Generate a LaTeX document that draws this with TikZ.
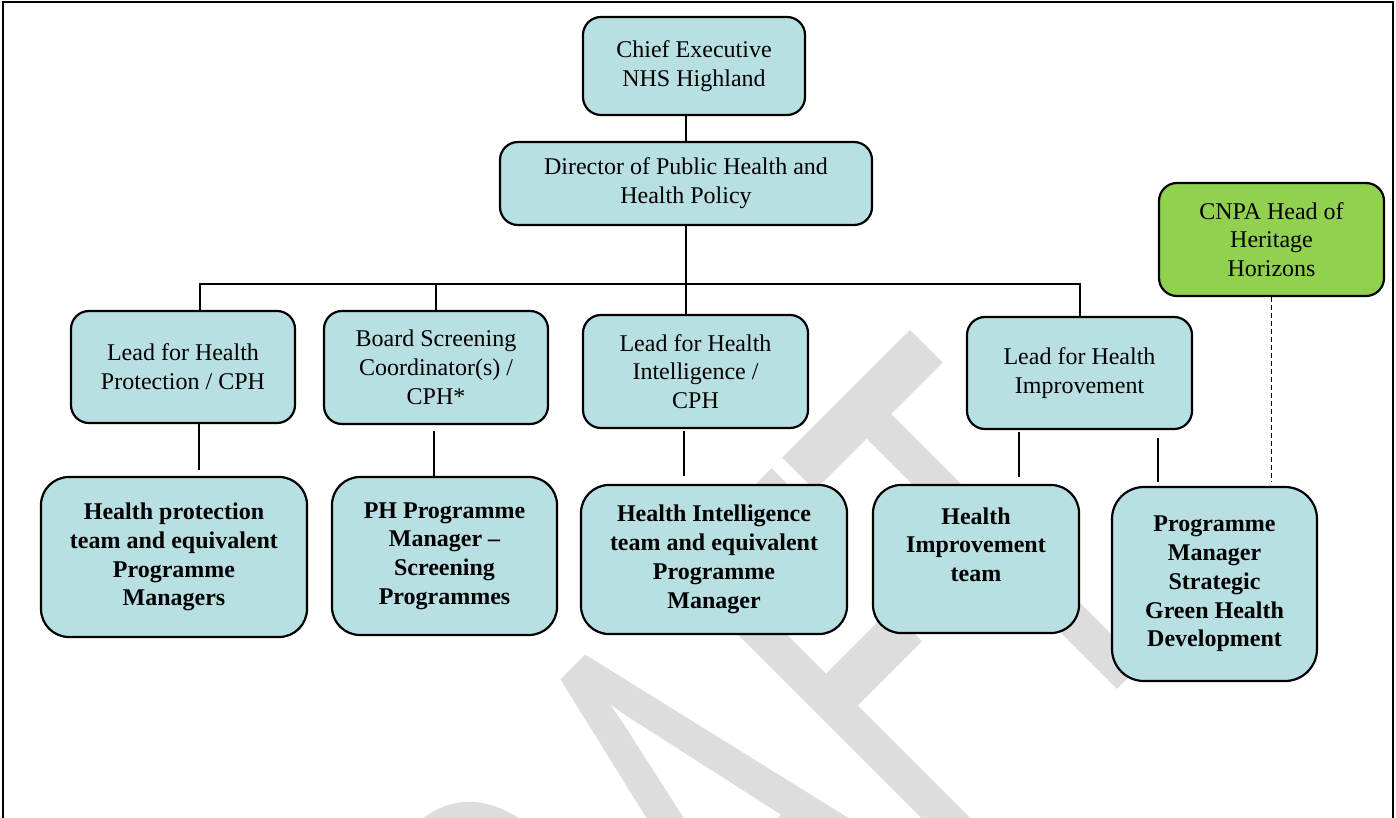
\documentclass[tikz,border=0pt]{standalone}
\usepackage{fontspec}
\setmainfont{Liberation Serif}
\newfontfamily\draftfont{Carlito}
\usepackage{tikz}
\usetikzlibrary{calc}
\definecolor{boxblue}{RGB}{184,223,226}
\definecolor{boxgreen}{HTML}{92D050}
\definecolor{draftgray}{RGB}{221,221,221}
\tikzset{
  post/.style={draw, line width=1.1pt, fill=boxblue, rounded corners=9pt, align=center, inner sep=0pt,
    font=\fontsize{12}{14.4}\selectfont},
  team/.style={post, rounded corners=14pt, font=\fontsize{12}{14.4}\selectfont\bfseries},
  partner/.style={post, fill=boxgreen},
  link/.style={line width=1pt},
  draftmark/.style={draftgray, inner sep=0pt, font=\draftfont\fontsize{195}{195}\selectfont}
}

\begin{document}
\begin{tikzpicture}[x=0.5pt,y=-0.5pt]
\useasboundingbox (0,0) rectangle (1396,818);
\begin{scope}
\clip (0,0) rectangle (1396,818);
\begin{scope}[shift={(457,1350)},rotate=45,yscale=1.6]
\node[draftmark,anchor=base west,transform shape] (draft) at (0,0) {DRAFT};
\end{scope}
\end{scope}
\draw[line width=1pt] (2.5,818) -- (2.5,2) -- (1393,2) -- (1393,818);

\node[post,minimum width=111pt,minimum height=49pt] (chief) at (694,66) {Chief Executive\\NHS Highland};
\node[post,minimum width=186pt,minimum height=41.5pt] (director) at (686,183.5) {Director of Public Health and\\Health Policy};
\node[partner,minimum width=112.5pt,minimum height=56.5pt] (cnpa) at (1271.5,239.5) {CNPA Head of\\Heritage\\Horizons};

\node[post,minimum width=112pt,minimum height=56pt] (protlead) at (183,367) {Lead for Health\\Protection / CPH};
\node[post,minimum width=112pt,minimum height=56.5pt] (screenlead) at (436,367.5) {Board Screening\\Coordinator(s) /\\CPH*};
\node[post,minimum width=112.5pt,minimum height=56.5pt] (intellead) at (695.5,371.5) {Lead for Health\\Intelligence /\\CPH};
\node[post,minimum width=112.5pt,minimum height=56pt] (imprlead) at (1079.5,373) {Lead for Health\\Improvement};

\node[team,minimum width=133pt,minimum height=80pt] (protteam) at (174,557) {Health protection\\team and equivalent\\Programme\\Managers};
\node[team,minimum width=112.5pt,minimum height=79pt] (screenteam) at (444.5,556) {PH Programme\\Manager –\\Screening\\Programmes};
\node[team,minimum width=133pt,minimum height=74.5pt] (intelteam) at (714,559.5) {Health Intelligence\\team and equivalent\\Programme\\Manager};
\node[team,minimum width=103pt,minimum height=74pt] (imprteam) at (976,559) {Health\\Improvement\\team\\\mbox{}};
\node[team,rounded corners=16pt,minimum width=102.5pt,minimum height=97pt] (greenpm) at (1214.5,584) {Programme\\Manager\\Strategic\\Green Health\\Development};

\coordinate (bus) at (686,284);
\draw[link] (chief.south -| director.north) -- (director.north);
\draw[link] (director.south) -- (bus);
\draw[link] ($(protlead.north)+(17,0)$) |- (bus) -| (imprlead.north);
\draw[link] (bus -| screenlead.north) -- (screenlead.north);
\draw[link] (bus) -- (bus |- intellead.north);

\draw[link] ($(protlead.south)+(16,0)$) -- ($(protteam.north)+(25,-6)$);
\draw[link] ($(screenlead.south)+(-2,6)$) -- ($(screenlead.south |- screenteam.north)+(-2,0)$);
\draw[link] ($(intellead.south)+(-11.5,2)$) -- ($(intelteam.north)+(-30,-8)$);
\draw[link] ($(imprlead.south)+(-60.5,2)$) -- ($(imprteam.north)+(43,-7)$);
\draw[link] ($(imprlead.south)+(78.5,8)$) -- ($(greenpm.north)+(-56.5,-4)$);
\draw[line width=0.8pt,dash pattern=on 2.5pt off 1.5pt] (cnpa.south) -- ($(cnpa.south |- greenpm.north)+(0,-4)$);
\end{tikzpicture}
\end{document}
